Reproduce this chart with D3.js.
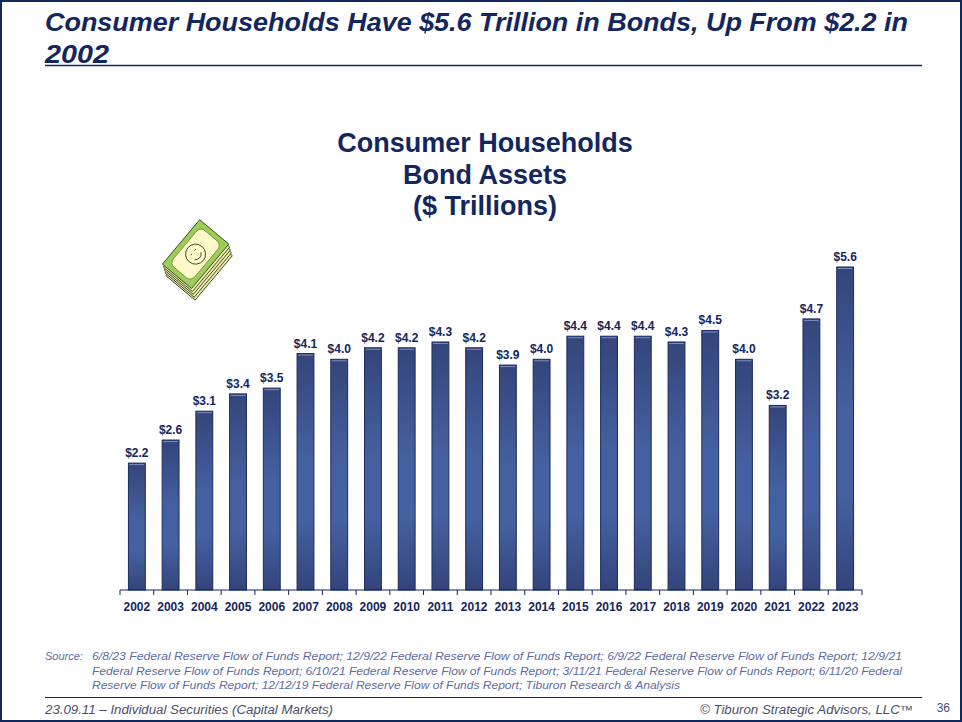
<!DOCTYPE html>
<html>
<head>
<meta charset="utf-8">
<script src="https://cdn.jsdelivr.net/npm/d3@7"></script>
<style>
  body { margin: 0; background: #fff; }
  svg { display: block; font-family: "Liberation Sans", Arial, sans-serif; }
</style>
</head>
<body>
<div id="here"></div>
<script>
// data
const years = ["2002","2003","2004","2005","2006","2007","2008","2009","2010","2011","2012",
               "2013","2014","2015","2016","2017","2018","2019","2020","2021","2022","2023"];
const bondAssets = [2.2, 2.6, 3.1, 3.4, 3.5, 4.1, 4.0, 4.2, 4.2, 4.3, 4.2,
                    3.9, 4.0, 4.4, 4.4, 4.4, 4.3, 4.5, 4.0, 3.2, 4.7, 5.6];
const headline = ["Consumer Households Have $5.6 Trillion in Bonds, Up From $2.2 in", "2002"];
const chartTitle = ["Consumer Households", "Bond Assets", "($ Trillions)"];
const sourceLines = [
  "6/8/23 Federal Reserve Flow of Funds Report; 12/9/22 Federal Reserve Flow of Funds Report; 6/9/22 Federal Reserve Flow of Funds Report; 12/9/21",
  "Federal Reserve Flow of Funds Report; 6/10/21 Federal Reserve Flow of Funds Report; 3/11/21 Federal Reserve Flow of Funds Report; 6/11/20 Federal",
  "Reserve Flow of Funds Report; 12/12/19 Federal Reserve Flow of Funds Report; Tiburon Research & Analysis"
];
const footerLeft = "23.09.11 \u2013 Individual  Securities (Capital Markets)";
const footerRight = "\u00A9 Tiburon Strategic Advisors, LLC\u2122";
const pageNo = "36";

const width = 962, height = 722;
const navy = "#13265e";

const svg = d3.select("#here").append("svg")
  .attr("width", width).attr("height", height);

// bar gradient
const defs = svg.append("defs");
const grad = defs.append("linearGradient")
  .attr("id", "barGrad").attr("x1", 0).attr("y1", 0).attr("x2", 0).attr("y2", 1);
[["0%", "#34457a"], ["45%", "#4560a0"], ["70%", "#4561a1"], ["100%", "#33447a"]]
  .forEach(s => grad.append("stop").attr("offset", s[0]).attr("stop-color", s[1]));

// slide frame
svg.append("rect")
  .attr("x", 1).attr("y", 1).attr("width", width - 2).attr("height", height - 2)
  .attr("fill", "none").attr("stroke", navy).attr("stroke-width", 2);

// headline
svg.append("g").selectAll("text")
  .data(headline).enter().append("text")
  .attr("x", 45)
  .attr("y", (d, i) => 31 + i * 32)
  .attr("fill", navy)
  .attr("font-size", 26)
  .attr("font-weight", "bold")
  .attr("font-style", "italic")
  .attr("textLength", (d, i) => i === 0 ? 863 : 64)
  .attr("lengthAdjust", "spacingAndGlyphs")
  .text(d => d);

svg.append("line")
  .attr("x1", 45).attr("x2", 922).attr("y1", 65.5).attr("y2", 65.5)
  .attr("stroke", navy).attr("stroke-width", 1.5);

// chart title
svg.append("g").selectAll("text")
  .data(chartTitle).enter().append("text")
  .attr("x", 485)
  .attr("y", (d, i) => 152 + i * 31.5)
  .attr("text-anchor", "middle")
  .attr("fill", navy)
  .attr("font-size", 27)
  .attr("font-weight", "bold")
  .text(d => d);

// scales
const margin = { left: 120, right: 100, bottom: 132 };
const xScale = d3.scaleBand()
  .domain(years)
  .range([margin.left, width - margin.right])
  .paddingInner(0.5)
  .paddingOuter(0.25);

const yScale = d3.scaleLinear()
  .domain([0, 5.6])
  .range([height - margin.bottom, 267]);

// bars
const bars = svg.append("g").selectAll("g")
  .data(years).enter().append("g");

bars.append("rect")
  .attr("x", d => xScale(d))
  .attr("y", (d, i) => yScale(bondAssets[i]))
  .attr("width", xScale.bandwidth())
  .attr("height", (d, i) => yScale(0) - yScale(bondAssets[i]))
  .attr("fill", "url(#barGrad)")
  .attr("stroke", "#1b2b5f")
  .attr("stroke-width", 1);

bars.append("line")
  .attr("x1", d => xScale(d) + 1)
  .attr("x2", d => xScale(d) + xScale.bandwidth() - 1)
  .attr("y1", (d, i) => yScale(bondAssets[i]) + 1.5)
  .attr("y2", (d, i) => yScale(bondAssets[i]) + 1.5)
  .attr("stroke", "#7f8fbf")
  .attr("stroke-width", 1);

bars.append("text")
  .attr("x", d => xScale(d) + xScale.bandwidth() / 2)
  .attr("y", (d, i) => yScale(bondAssets[i]) - 6)
  .attr("text-anchor", "middle")
  .attr("fill", navy)
  .attr("font-size", 12)
  .attr("font-weight", "bold")
  .text((d, i) => "$" + bondAssets[i].toFixed(1));

// x axis with ticks between categories
const xAxis = svg.append("g")
  .attr("transform", `translate(0, ${yScale(0)})`);

xAxis.append("line")
  .attr("x1", margin.left).attr("x2", width - margin.right)
  .attr("stroke", navy).attr("stroke-width", 1.2);

const step = xScale.step();
const boundaries = d3.range(years.length + 1).map(i => margin.left + i * step);
xAxis.selectAll(".tick").data(boundaries).enter().append("line")
  .attr("class", "tick")
  .attr("x1", d => d).attr("x2", d => d)
  .attr("y1", 0).attr("y2", 5)
  .attr("stroke", navy).attr("stroke-width", 1);

xAxis.selectAll(".lbl").data(years).enter().append("text")
  .attr("class", "lbl")
  .attr("x", d => xScale(d) + xScale.bandwidth() / 2)
  .attr("y", 21)
  .attr("text-anchor", "middle")
  .attr("fill", navy)
  .attr("font-size", 12)
  .attr("font-weight", "bold")
  .text(d => d);

// money clip art
const money = svg.append("g").attr("transform", "translate(197,254) rotate(-50)");
[[12, "#eee8a8"], [9, "#f3eeb4"], [6, "#eee8a8"], [3, "#f3eeb4"], [0, "#9ccc5a"]].forEach(function (o) {
  money.append("rect")
    .attr("x", -30 - o[0] * 0.55).attr("y", -20 + o[0] * 0.85)
    .attr("width", 58).attr("height", 38)
    .attr("fill", o[1])
    .attr("stroke", "#3c4a1e").attr("stroke-width", 0.9);
});
money.append("rect")
  .attr("x", -25).attr("y", -15).attr("width", 48).attr("height", 28)
  .attr("rx", 6)
  .attr("fill", "#fdf9c8").attr("stroke", "#6c8a30").attr("stroke-width", 0.8);
money.append("ellipse")
  .attr("cx", -1).attr("cy", -1).attr("rx", 10).attr("ry", 10)
  .attr("fill", "#fdf9c8").attr("stroke", "#3c4a1e").attr("stroke-width", 0.9);
money.append("path")
  .attr("d", "M-6,2 Q-1,7 4,2 M-5,-4 L-3,-4 M1,-4 L3,-4")
  .attr("fill", "none").attr("stroke", "#3c4a1e").attr("stroke-width", 0.9);

// source
svg.append("text")
  .attr("x", 45).attr("y", 660)
  .attr("fill", "#5b6ca6").attr("font-size", 11).attr("font-style", "italic")
  .text("Source:");

svg.append("g").selectAll("text")
  .data(sourceLines).enter().append("text")
  .attr("x", 92)
  .attr("y", (d, i) => 660 + i * 14.5)
  .attr("fill", "#5b6ca6")
  .attr("font-size", 11)
  .attr("font-style", "italic")
  .attr("textLength", (d, i) => i === 2 ? 588 : 810)
  .attr("lengthAdjust", "spacingAndGlyphs")
  .text(d => d);

svg.append("line")
  .attr("x1", 45).attr("x2", 922).attr("y1", 697.5).attr("y2", 697.5)
  .attr("stroke", navy).attr("stroke-width", 1.2);

// footer
svg.append("text")
  .attr("x", 45).attr("y", 714)
  .attr("fill", "#4a4f6a").attr("font-size", 12).attr("font-style", "italic")
  .attr("textLength", 288).attr("lengthAdjust", "spacingAndGlyphs")
  .text(footerLeft);

svg.append("text")
  .attr("x", 913).attr("y", 714)
  .attr("text-anchor", "end")
  .attr("fill", "#4a4f6a").attr("font-size", 12).attr("font-style", "italic")
  .attr("textLength", 213).attr("lengthAdjust", "spacingAndGlyphs")
  .text(footerRight);

svg.append("text")
  .attr("x", 950).attr("y", 712)
  .attr("text-anchor", "end")
  .attr("fill", "#4a4f6a").attr("font-size", 12)
  .text(pageNo);
</script>
</body>
</html>
